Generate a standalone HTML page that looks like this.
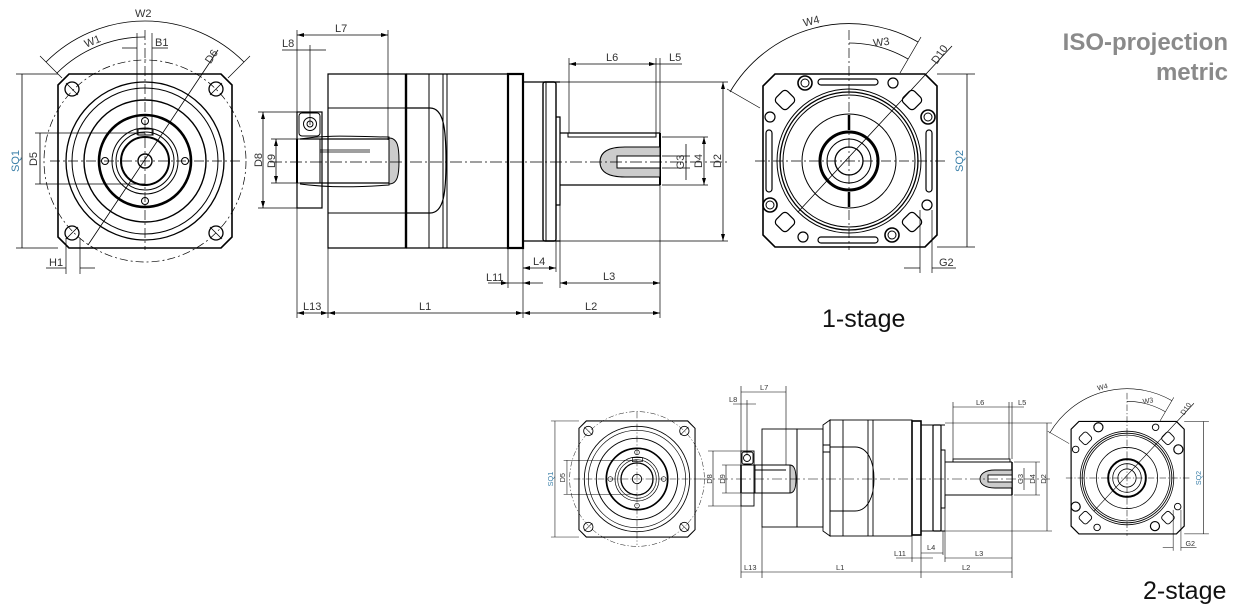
<!DOCTYPE html>
<html><head><meta charset="utf-8"><style>
html,body{margin:0;padding:0;background:#fff;}
</style></head><body>
<svg width="1239" height="609" viewBox="0 0 1239 609" xmlns="http://www.w3.org/2000/svg" style="display:block">

<g>
 <g fill="none" stroke="#000" stroke-width="1">
  <path d="M69,74L221,74L232,85L232,237L221,248L69,248L58,237L58,85Z" stroke-width="1.6"/>
  <circle cx="145" cy="161" r="101" stroke-dasharray="8,3,2,3" stroke-width="0.7"/>
  <circle cx="145" cy="161" r="79" stroke-width="1.3"/>
  <circle cx="145" cy="161" r="73"/>
  <circle cx="145" cy="161" r="61" stroke-width="1.4"/>
  <circle cx="145" cy="161" r="46" stroke-width="2.6"/>
  <circle cx="145" cy="161" r="33"/>
  <circle cx="145" cy="161" r="29"/>
  <circle cx="145" cy="161" r="24" stroke-width="2"/>
  <circle cx="145" cy="161" r="7" stroke-width="1.4"/>
  <rect x="138" y="129" width="15" height="6"/>
  <circle cx="72" cy="89" r="7" stroke-width="1.3"/><circle cx="216" cy="89" r="7" stroke-width="1.3"/>
  <circle cx="72" cy="233" r="7" stroke-width="1.3"/><circle cx="216" cy="233" r="7" stroke-width="1.3"/>
  <path d="M66,83L78,95M210,95L222,83M66,239L78,227M210,227L222,239" stroke-width="0.8"/>
  <circle cx="145" cy="121" r="3.5"/><circle cx="145" cy="201" r="3.5"/>
  <circle cx="105" cy="161" r="3.5"/><circle cx="185" cy="161" r="3.5"/>
  <path d="M50,161H240M145,30V250" stroke-dasharray="10,3,2,3" stroke-width="0.7"/>
  <path d="M88,245L218,50" stroke-width="0.8"/>
  <path d="M46,62A140,140 0 0 1 244,62" stroke-width="0.8"/>
  <path d="M57,73A124,124 0 0 1 145,37" stroke-width="0.8"/>
  <path d="M62,78L40,56M228,78L250,56" stroke-width="0.7"/>
  <path d="M137,33V135M152,33V135" stroke-width="0.7"/>
  <path d="M122,48H137M168,48H152" stroke-width="0.7"/>
  <path d="M16,74H58M16,248H58M35,133H145M35,184H145" stroke-width="0.7"/>
  <path d="M22,74V248M40,133V184" stroke-width="0.8"/>
  <path d="M66,238V274M80,238V274" stroke-width="0.7"/>
  <path d="M46,268H66M95,268H80" stroke-width="0.7"/>
 </g>
 <g fill="#333" font-size="11" font-family="Liberation Sans, sans-serif">
  <text x="135" y="17">W2</text>
  <text x="84" y="45" transform="rotate(-22 92 41)">W1</text>
  <text x="155" y="46">B1</text>
  <text x="205" y="62" transform="rotate(-56 210 58)">D6</text>
  <text x="19" y="161" transform="rotate(-90 19 161)" text-anchor="middle" fill="#3a7fa8">SQ1</text>
  <text x="37" y="159" transform="rotate(-90 37 159)" text-anchor="middle">D5</text>
  <text x="49" y="266">H1</text>
 </g>
</g>

<g transform="translate(637,479) scale(0.667) translate(-145,-161)">
 <g fill="none" stroke="#000" stroke-width="1">
  <path d="M69,74L221,74L232,85L232,237L221,248L69,248L58,237L58,85Z" stroke-width="1.6"/>
  <circle cx="145" cy="161" r="101" stroke-dasharray="8,3,2,3" stroke-width="0.7"/>
  <circle cx="145" cy="161" r="79" stroke-width="1.3"/>
  <circle cx="145" cy="161" r="73"/>
  <circle cx="145" cy="161" r="61" stroke-width="1.4"/>
  <circle cx="145" cy="161" r="46" stroke-width="2.6"/>
  <circle cx="145" cy="161" r="33"/>
  <circle cx="145" cy="161" r="29"/>
  <circle cx="145" cy="161" r="24" stroke-width="2"/>
  <circle cx="145" cy="161" r="7" stroke-width="1.4"/>
  <rect x="138" y="129" width="15" height="6"/>
  <circle cx="72" cy="89" r="7" stroke-width="1.3"/><circle cx="216" cy="89" r="7" stroke-width="1.3"/>
  <circle cx="72" cy="233" r="7" stroke-width="1.3"/><circle cx="216" cy="233" r="7" stroke-width="1.3"/>
  <path d="M66,83L78,95M210,95L222,83M66,239L78,227M210,227L222,239" stroke-width="0.8"/>
  <circle cx="145" cy="121" r="3.5"/><circle cx="145" cy="201" r="3.5"/>
  <circle cx="105" cy="161" r="3.5"/><circle cx="185" cy="161" r="3.5"/>
  <path d="M50,161H240M145,60V260" stroke-dasharray="10,3,2,3" stroke-width="0.7"/>
  <path d="M16,74H58M16,248H58M35,133H145M35,184H145" stroke-width="0.7"/>
  <path d="M22,74V248M40,133V184" stroke-width="0.8"/>
 </g>
 <g fill="#333" font-size="11" font-family="Liberation Sans, sans-serif">
  <text x="19" y="161" transform="rotate(-90 19 161)" text-anchor="middle" fill="#3a7fa8">SQ1</text>
  <text x="37" y="159" transform="rotate(-90 37 159)" text-anchor="middle">D5</text>
 </g>
</g>

<g>
 <g fill="none" stroke="#000" stroke-width="1">
  <path d="M775,74L925,74L937,86L937,235L925,247L775,247L763,235L763,86Z" stroke-width="1.6"/>
  <circle cx="849" cy="161" r="72"/>
  <circle cx="849" cy="161" r="69" stroke-width="1.3"/>
  <circle cx="849" cy="161" r="66"/>
  <circle cx="849" cy="161" r="47"/>
  <circle cx="849" cy="161" r="29" stroke-width="3"/>
  <circle cx="849" cy="161" r="22"/>
  <circle cx="849" cy="161" r="14" stroke-width="1.3"/>
  <g stroke-width="1.6"><circle cx="805" cy="83" r="7"/><circle cx="928" cy="117" r="7"/><circle cx="770" cy="205" r="7"/><circle cx="892" cy="235" r="7"/></g>
  <circle cx="805" cy="83" r="4"/><circle cx="928" cy="117" r="4"/><circle cx="770" cy="205" r="4"/><circle cx="892" cy="235" r="4"/>
  <g stroke-width="1.2"><circle cx="893" cy="83" r="5"/><circle cx="770" cy="117" r="5"/><circle cx="927" cy="205" r="5"/><circle cx="803" cy="237" r="5"/></g>
  <g stroke-width="1.2">
   <rect x="777" y="92" width="16" height="16" rx="4" transform="rotate(45 785 100)"/>
   <rect x="904" y="92" width="16" height="16" rx="4" transform="rotate(45 912 100)"/>
   <rect x="777" y="214" width="16" height="16" rx="4" transform="rotate(45 785 222)"/>
   <rect x="904" y="214" width="16" height="16" rx="4" transform="rotate(45 912 222)"/>
   <rect x="818" y="79" width="60" height="6" rx="3"/>
   <rect x="818" y="237" width="60" height="6" rx="3"/>
   <rect x="766" y="130" width="6" height="62" rx="3"/>
   <rect x="926" y="130" width="6" height="62" rx="3"/>
  </g>
  <path d="M849,115V130M849,192V207" stroke-width="2.5"/>
  <path d="M755,161H945M849,30V250" stroke-dasharray="10,3,2,3" stroke-width="0.7"/>
  <path d="M798,212L952,46" stroke-width="0.8"/>
  <path d="M730,92A138,138 0 0 1 918,42" stroke-width="0.8"/>
  <path d="M849,43A118,118 0 0 1 908,59" stroke-width="0.8"/>
  <path d="M760,108L727,89M900,73L921,37" stroke-width="0.7"/>
  <path d="M937,74H975M937,247H975" stroke-width="0.7"/>
  <path d="M967,74V247" stroke-width="0.8"/>
  <path d="M920,210V273M932,210V273" stroke-width="0.7"/>
  <path d="M904,268H920M956,268H932" stroke-width="0.7"/>
 </g>
 <g fill="#333" font-size="11" font-family="Liberation Sans, sans-serif">
  <text x="803" y="25" transform="rotate(-14 810 21)">W4</text>
  <text x="873" y="46" transform="rotate(-8 880 42)">W3</text>
  <text x="928" y="62" transform="rotate(-55 935 55)">D10</text>
  <text x="963" y="161" transform="rotate(-90 963 161)" text-anchor="middle" fill="#3a7fa8">SQ2</text>
  <text x="939" y="266">G2</text>
 </g>
</g>

<g transform="translate(1127,478) scale(0.65) translate(-849,-161)">
 <g fill="none" stroke="#000" stroke-width="1.2">
  <path d="M775,74L925,74L937,86L937,235L925,247L775,247L763,235L763,86Z" stroke-width="1.8"/>
  <circle cx="849" cy="161" r="72"/>
  <circle cx="849" cy="161" r="69" stroke-width="1.4"/>
  <circle cx="849" cy="161" r="66"/>
  <circle cx="849" cy="161" r="47"/>
  <circle cx="849" cy="161" r="29" stroke-width="3"/>
  <circle cx="849" cy="161" r="22"/>
  <circle cx="849" cy="161" r="14" stroke-width="1.3"/>
  <g stroke-width="1.8"><circle cx="805" cy="83" r="7"/><circle cx="928" cy="117" r="7"/><circle cx="770" cy="205" r="7"/><circle cx="892" cy="235" r="7"/></g>
  <g stroke-width="1.4"><circle cx="893" cy="83" r="5"/><circle cx="770" cy="117" r="5"/><circle cx="927" cy="205" r="5"/><circle cx="803" cy="237" r="5"/></g>
  <g stroke-width="1.4">
   <rect x="777" y="92" width="16" height="16" rx="4" transform="rotate(45 785 100)"/>
   <rect x="904" y="92" width="16" height="16" rx="4" transform="rotate(45 912 100)"/>
   <rect x="777" y="214" width="16" height="16" rx="4" transform="rotate(45 785 222)"/>
   <rect x="904" y="214" width="16" height="16" rx="4" transform="rotate(45 912 222)"/>
  </g>
  <path d="M755,161H945M849,30V250" stroke-dasharray="10,3,2,3" stroke-width="0.8"/>
  <path d="M798,212L952,46" stroke-width="0.9"/>
  <path d="M730,92A138,138 0 0 1 918,42" stroke-width="0.9"/>
  <path d="M849,43A118,118 0 0 1 908,59" stroke-width="0.9"/>
  <path d="M760,108L727,89M900,73L921,37" stroke-width="0.8"/>
  <path d="M937,74H975M937,247H975" stroke-width="0.8"/>
  <path d="M967,74V247" stroke-width="0.9"/>
  <path d="M920,210V273M932,210V273" stroke-width="0.8"/>
  <path d="M904,268H920M956,268H932" stroke-width="0.8"/>
 </g>
 <g fill="#333" font-size="11" font-family="Liberation Sans, sans-serif">
  <text x="803" y="25" transform="rotate(-14 810 21)">W4</text>
  <text x="873" y="46" transform="rotate(-8 880 42)">W3</text>
  <text x="928" y="62" transform="rotate(-55 935 55)">D10</text>
  <text x="963" y="161" transform="rotate(-90 963 161)" text-anchor="middle" fill="#3a7fa8">SQ2</text>
  <text x="939" y="266">G2</text>
 </g>
</g>

<g fill="none" stroke="#000" stroke-width="1">
 <rect x="297" y="112" width="25" height="96" stroke-width="1.2"/>
 <rect x="299" y="113" width="21" height="23" rx="3"/>
 <circle cx="310" cy="124" r="6.5"/><circle cx="310" cy="124" r="3"/>
 <path d="M300,139C330,134 360,137 389,137V185C360,187 330,188 300,184"/>
 <path d="M300,139H389M300,183H389" stroke-width="1.2"/>
 <path d="M297,139V183" stroke-width="2"/>
 <path d="M320,139V183"/>
 <path d="M320,150H370M320,152H370" stroke-width="0.8"/>
 <path d="M389,138C398,138 399,148 399,161C399,174 398,184 389,184Z" fill="#ccc"/>
 <path d="M328,74H406V248H328Z" stroke-width="1.2"/>
 <path d="M328,108H406M328,213H406"/>
 <path d="M406,74H447M406,248H447" stroke-width="1.2"/>
 <path d="M406,74V248" stroke-width="2.4"/>
 <path d="M429,74V248M443,74V248M447,74V248"/>
 <path d="M406,108H430C444,108 446,130 446,161C446,192 444,213 430,213H406" stroke-width="1.2"/>
 <path d="M447,74H508V248H447" stroke-width="1.2"/>
 <rect x="508" y="74" width="15" height="174" stroke-width="2.2"/>
 <path d="M523,82H560M523,241H560" stroke-width="1.2"/>
 <rect x="543" y="82" width="13" height="159" rx="2" stroke-width="1.4"/>
 <path d="M546,82V241"/>
 <path d="M556,117H560V205H556" stroke-width="1.2"/>
 <path d="M560,133H660M560,185H660" stroke-width="1.2"/>
 <rect x="568" y="133" width="88" height="4"/>
 <path d="M660,133V185" stroke-width="2"/>
 <path d="M660,147H625C608,147 600,152 600,162C600,172 608,177 625,177H660Z" fill="#ccc"/>
 <rect x="617" y="156" width="43" height="12" fill="#fff"/>
 <path d="M270,162H730" stroke-dasharray="12,3,2,3" stroke-width="0.7"/>
 <path d="M297,30V318M310,45V125M388,30V140M328,248V318M523,241V318M508,248V288M556,241V272M560,185V288M660,185V318M569,58V133M656,58V133M660,58V133" stroke-width="0.7"/>
 <path d="M560,82H728M560,241H728M662,137H708M662,185H708M662,156H690M662,168H690M258,112H297M258,208H297M271,139H300M271,183H300" stroke-width="0.7"/>
 <g stroke-width="0.8">
  <path d="M297,35H388M282,50H326M297,313H660M488,283H543M523,268H556M560,283H660M569,64H682M723,82V241M704,137V185M686,144V180M263,112V208M276,139V183"/>
 </g>
</g>
<g fill="#000">
 <path d="M297,35l7,-2v4zM388,35l-7,-2v4zM297,313l7,-2v4zM328,313l-7,-2v4zM328,313l7,-2v4zM523,313l-7,-2v4zM523,313l7,-2v4zM660,313l-7,-2v4zM523,268l7,-2v4zM556,268l-7,-2v4zM560,283l7,-2v4zM660,283l-7,-2v4zM569,64l7,-2v4zM656,64l-7,-2v4zM723,82l-2,7h4zM723,241l-2,-7h4zM704,137l-2,7h4zM704,185l-2,-7h4zM263,112l-2,7h4zM263,208l-2,-7h4zM276,139l-2,7h4zM276,183l-2,-7h4zM508,283l-7,-2v4zM523,283l7,-2v4z"/>
</g>
<g fill="#333" font-size="11" font-family="Liberation Sans, sans-serif">
 <text x="335" y="32">L7</text>
 <text x="282" y="47">L8</text>
 <text x="303" y="310">L13</text>
 <text x="419" y="310">L1</text>
 <text x="585" y="310">L2</text>
 <text x="486" y="281">L11</text>
 <text x="533" y="265">L4</text>
 <text x="603" y="280">L3</text>
 <text x="606" y="61">L6</text>
 <text x="669" y="61">L5</text>
 <text x="721" y="161" transform="rotate(-90 721 161)" text-anchor="middle">D2</text>
 <text x="702" y="161" transform="rotate(-90 702 161)" text-anchor="middle">D4</text>
 <text x="684" y="162" transform="rotate(-90 684 162)" text-anchor="middle">G3</text>
 <text x="262" y="160" transform="rotate(-90 262 160)" text-anchor="middle">D8</text>
 <text x="275" y="161" transform="rotate(-90 275 161)" text-anchor="middle">D9</text>
</g>

<g fill="none" stroke="#000" stroke-width="0.9">
 <rect x="741" y="451" width="13" height="55"/>
 <rect x="742" y="452" width="11" height="12" rx="2"/>
 <circle cx="747" cy="458" r="3.5"/>
 <path d="M742,465H790M742,493H790"/>
 <path d="M741,465V493" stroke-width="1.6"/>
 <path d="M755,465V493M755,470H786"/>
 <path d="M790,465C795,465 796,472 796,479C796,486 795,493 790,493Z" fill="#ccc"/>
 <rect x="762" y="429" width="35" height="98"/>
 <rect x="797" y="429" width="26" height="98"/>
 <path d="M823,425L830,420V536L823,531Z"/>
 <path d="M823,445H830V452H823"/>
 <rect x="830" y="420" width="82" height="116"/>
 <path d="M843,420V536M868,420V536M873,420V536"/>
 <path d="M830,447H855C868,447 874,462 874,479C874,496 868,511 855,511H830"/>
 <rect x="912" y="421" width="9" height="114" stroke-width="1.6"/>
 <path d="M921,425H945M921,531H945"/>
 <rect x="933" y="425" width="8" height="106" rx="1" stroke-width="1.2"/>
 <path d="M941,450H945V508H941M945,462H1012M945,495H1012"/>
 <rect x="953" y="459" width="57" height="3"/>
 <path d="M1012,462V495" stroke-width="1.5"/>
 <path d="M1012,470H995C985,470 980,474 980,479C980,484 985,488 995,488H1012Z" fill="#ccc"/>
 <rect x="988" y="475" width="24" height="7" fill="#fff"/>
 <path d="M700,479H1050" stroke-dasharray="10,3,2,3" stroke-width="0.6"/>
 <g stroke-width="0.6">
  <path d="M741,386V578M747,400V455M786,386V465M762,527V578M921,531V578M912,536V562M943,531V555M945,495V562M1012,495V578M953,402V459M1009,402V459M1012,402V459"/>
  <path d="M945,423H1052M945,531H1052M1014,462H1040M1014,495H1040M708,451H741M708,506H741M722,465H742M722,493H742"/>
  <path d="M741,392H786M733,404H756M741,572H1012M896,558H933M921,553H943M945,558H1012M953,407H1024M1047,423V531M1036,462V495M1024,468V490M713,451V506M726,465V493"/>
 </g>
</g>
<g fill="#333" font-size="7.5" font-family="Liberation Sans, sans-serif">
 <text x="760" y="390">L7</text>
 <text x="729" y="402">L8</text>
 <text x="744" y="570">L13</text>
 <text x="836" y="570">L1</text>
 <text x="962" y="570">L2</text>
 <text x="894" y="556">L11</text>
 <text x="927" y="550">L4</text>
 <text x="975" y="556">L3</text>
 <text x="976" y="405">L6</text>
 <text x="1018" y="405">L5</text>
 <text x="1046" y="479" transform="rotate(-90 1046 479)" text-anchor="middle">D2</text>
 <text x="1035" y="479" transform="rotate(-90 1035 479)" text-anchor="middle">D4</text>
 <text x="1023" y="479" transform="rotate(-90 1023 479)" text-anchor="middle">G3</text>
 <text x="712" y="479" transform="rotate(-90 712 479)" text-anchor="middle">D8</text>
 <text x="725" y="479" transform="rotate(-90 725 479)" text-anchor="middle">D9</text>
</g>

<g font-family="Liberation Sans, sans-serif" fill="#8a8a8a" font-weight="bold" font-size="24" text-anchor="end">
 <text x="1228" y="50">ISO-projection</text>
 <text x="1228" y="80">metric</text>
</g>
<text x="822" y="327" font-size="25" fill="#111" font-family="Liberation Sans, sans-serif">1-stage</text>
<text x="1143" y="599" font-size="25" fill="#111" font-family="Liberation Sans, sans-serif">2-stage</text>
</svg>
</body></html>
